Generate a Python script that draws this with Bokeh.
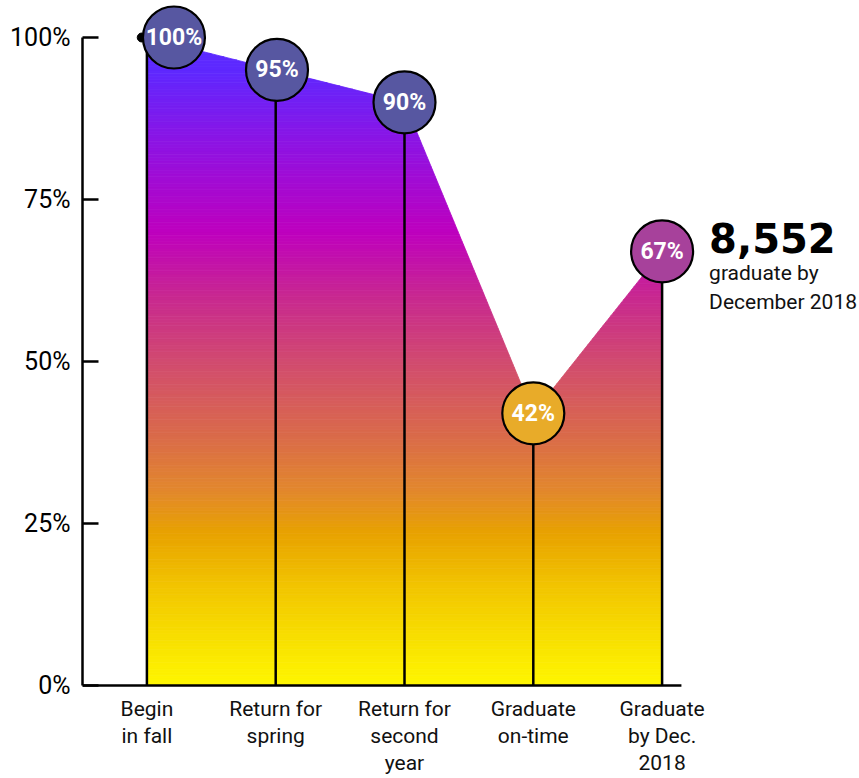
from bokeh.plotting import figure
from bokeh.models import Range1d, FixedTicker, ColumnDataSource
from bokeh.core.properties import value
from bokeh.embed import file_html
from bokeh.resources import INLINE

# ---- data -------------------------------------------------------------
categories = ["Begin\nin fall", "Return for\nspring", "Return for\nsecond\nyear",
              "Graduate\non-time", "Graduate\nby Dec.\n2018"]
shares = [100, 95, 90, 42, 67]
share_labels = ["100%", "95%", "90%", "42%", "67%"]
y_ticks = [0, 25, 50, 75, 100]
y_tick_labels = ["0%", "25%", "50%", "75%", "100%"]
headline_number = "8,552"
headline_caption = "graduate by\nDecember 2018"

# ---- styling ----------------------------------------------------------
BODY = "Roboto"
HEAVY = "DejaVu Sans"
bubble_colors = ["#5757A1", "#5757A1", "#5757A1", "#E8AB29", "#A7419B"]
bubble_nudge = [0.21, 0.01, 0.0, 0.0, 0.0]   # horizontal nudge of each bubble (category units)

# vertical colour ramp of the area, keyed by percent
ramp_at = [0, 7, 15, 23.5, 30, 38, 49, 60, 70, 84, 95, 100]
ramp_col = ["#FFF700", "#F8E000", "#F2C600", "#E8A200", "#E2882C", "#DA6C48",
            "#D24E6C", "#C82890", "#BE00BE", "#8C14E4", "#5E28FF", "#5A2CFF"]

xs = list(range(len(categories)))


def hex_rgb(h):
    h = h.lstrip("#")
    return tuple(int(h[i:i + 2], 16) for i in (0, 2, 4))


def ramp(v):
    for k in range(len(ramp_at) - 1):
        if ramp_at[k] <= v <= ramp_at[k + 1]:
            t = (v - ramp_at[k]) / (ramp_at[k + 1] - ramp_at[k])
            a, b = hex_rgb(ramp_col[k]), hex_rgb(ramp_col[k + 1])
            c = [round(a[j] + (b[j] - a[j]) * t) for j in range(3)]
            return "#%02x%02x%02x" % tuple(c)
    return ramp_col[-1]


def clip(poly, y0, keep_above):
    """Clip a convex polygon against the horizontal line y = y0."""
    out = []
    n = len(poly)
    for i in range(n):
        p, q = poly[i], poly[(i + 1) % n]
        pin = p[1] >= y0 if keep_above else p[1] <= y0
        qin = q[1] >= y0 if keep_above else q[1] <= y0
        if pin:
            out.append(p)
        if pin != qin:
            t = (y0 - p[1]) / (q[1] - p[1])
            out.append((p[0] + t * (q[0] - p[0]), y0))
    return out


# area under the share line: one trapezoid per step, each cut into thin
# horizontal bands so the fill can carry a vertical gradient
band_xs, band_ys, band_cols = [], [], []
step = 0.5
for i in range(len(xs) - 1):
    trap = [(xs[i], 0), (xs[i], shares[i]), (xs[i + 1], shares[i + 1]), (xs[i + 1], 0)]
    top = max(shares[i], shares[i + 1])
    lo = 0.0
    while lo < top:
        hi = lo + step
        piece = clip(clip(trap, lo, True), hi, False)
        if len(piece) >= 3:
            band_xs.append([pt[0] for pt in piece])
            band_ys.append([pt[1] for pt in piece])
            band_cols.append(ramp(lo + step / 2))
        lo = hi

# ---- figure -----------------------------------------------------------
PX_X = 128.8    # pixels per category step
PX_Y = 6.48     # pixels per percent
W, H = 859, 778
LEFT = 82
p = figure(width=W, height=H,
           x_range=Range1d(-0.5, -0.5 + (W - LEFT) / PX_X),
           y_range=Range1d(-(H - 685) / PX_Y, 100 + 37 / PX_Y),
           output_backend="svg", toolbar_location=None,
           x_axis_location=None, y_axis_location="left",
           min_border_left=LEFT, min_border_right=0,
           min_border_top=0, min_border_bottom=0)
p.xgrid.visible = False
p.ygrid.visible = False
p.outline_line_color = None
p.background_fill_color = "white"
p.border_fill_color = "white"

ax = p.yaxis[0]
ax.ticker = FixedTicker(ticks=y_ticks)
ax.major_label_overrides = {t: lab for t, lab in zip(y_ticks, y_tick_labels)}
ax.bounds = (0, 100)
ax.major_tick_in = 16
ax.major_tick_out = 0
ax.minor_tick_in = 0
ax.minor_tick_out = 0
ax.axis_line_width = 2.5
ax.axis_line_color = "black"
ax.major_tick_line_width = 2.5
ax.major_tick_line_color = "black"
ax.major_label_text_font = BODY
ax.major_label_text_font_size = "25px"
ax.major_label_text_color = "black"
ax.major_label_standoff = 12

# gradient area
p.patches(band_xs, band_ys, fill_color=band_cols, line_color=band_cols, line_width=0.8)

# baseline
p.segment(x0=[-0.5], y0=[0], x1=[xs[-1] + 0.15], y1=[0], line_color="black", line_width=2.5)

# stems
p.segment(x0=xs, y0=[0] * len(xs), x1=xs, y1=shares, line_color="black", line_width=2.5)

# small marker on the starting point
p.scatter(x=[xs[0] - 0.04], y=[shares[0]], size=9, marker="circle",
          fill_color="black", line_color="black")

# bubbles
src = ColumnDataSource(dict(
    x=[x + d for x, d in zip(xs, bubble_nudge)],
    y=shares, label=share_labels, color=bubble_colors))
p.scatter(x="x", y="y", source=src, size=62, marker="circle",
          fill_color="color", line_color="black", line_width=2.2)
p.text(x="x", y="y", text="label", source=src, text_color="white",
       text_font=value(BODY), text_font_style="bold", text_font_size="23px",
       text_align="center", text_baseline="middle")

# category labels under the baseline
p.text(x=xs, y=[0] * len(xs), text=categories, y_offset=11,
       text_font=value(BODY), text_font_size="21px", text_color="#111111",
       text_align="center", text_baseline="top", text_line_height=1.14)

# call-out next to the last point
p.text(x=[xs[-1]], y=[shares[-1]], text=[headline_number], x_offset=47, y_offset=-13,
       text_font=value(HEAVY), text_font_style="bold", text_font_size="40px",
       text_color="black", text_align="left", text_baseline="alphabetic")
p.text(x=[xs[-1]], y=[shares[-1]], text=[headline_caption], x_offset=47, y_offset=10,
       text_font=value(BODY), text_font_size="21px", text_color="#111111",
       text_align="left", text_baseline="top", text_line_height=1.18)

open("out.html", "w").write(file_html(p, INLINE))
